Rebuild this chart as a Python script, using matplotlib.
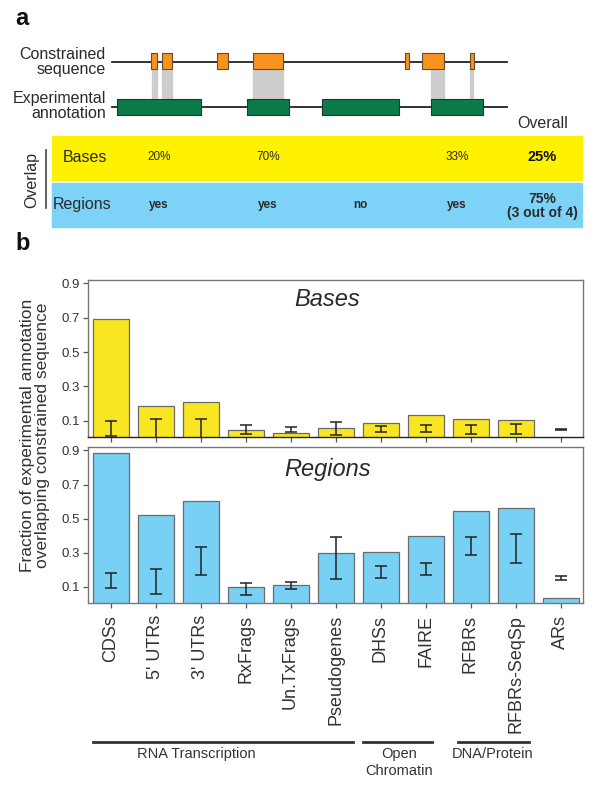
import matplotlib.pyplot as plt
from matplotlib.transforms import blended_transform_factory

plt.rcParams['font.family'] = ['Liberation Sans', 'DejaVu Sans']

# panel b data
categories = ["CDSs", "5' UTRs", "3' UTRs", "RxFrags", "Un.TxFrags", "Pseudogenes",
              "DHSs", "FAIRE", "RFBRs", "RFBRs-SeqSp", "ARs"]
bases = [0.695, 0.186, 0.208, 0.044, 0.031, 0.056, 0.090, 0.133, 0.110, 0.104, 0.0]
bases_lo = [0.011, 0.0, 0.0, 0.023, 0.034, 0.015, 0.037, 0.037, 0.025, 0.025, 0.045]
bases_hi = [0.100, 0.110, 0.110, 0.077, 0.066, 0.094, 0.070, 0.074, 0.074, 0.080, 0.055]
regions = [0.883, 0.523, 0.606, 0.102, 0.113, 0.298, 0.306, 0.396, 0.547, 0.565, 0.033]
regions_lo = [0.096, 0.057, 0.172, 0.053, 0.088, 0.147, 0.155, 0.172, 0.288, 0.243, 0.139]
regions_hi = [0.179, 0.206, 0.333, 0.126, 0.130, 0.394, 0.224, 0.239, 0.392, 0.412, 0.165]
yticks = [0.1, 0.3, 0.5, 0.7, 0.9]

# category groups: label, line start, line end, label x (in category units)
groups = [("RNA Transcription", -0.38, 5.38, 1.9),
          ("Open\nChromatin", 5.6, 7.15, 6.42),
          ("DNA/Protein", 7.73, 9.3, 8.5)]

# panel a schematic (pixel units of the 600x788 canvas)
constrained = [(151, 157), (162, 172), (217, 228), (253, 283), (405, 409), (422, 444), (470, 474)]
annotation = [(117, 201), (247, 289), (322, 399), (431, 483)]
overlaps = [(152, 157), (162, 172), (253, 283), (431, 444), (470, 473)]
base_overlap = ["20%", "70%", "", "33%"]
region_overlap = ["yes", "yes", "no", "yes"]

YELLOW = '#FFF200'
BLUE = '#7DD3F7'
BAR_YELLOW = '#F9E622'
BAR_BLUE = '#79D0F5'
TXT = '#2a2a2a'

fig = plt.figure(figsize=(6, 7.88), dpi=100)

# ---- panel a ----
ax0 = fig.add_axes([0, 0, 1, 1])
ax0.set_xlim(0, 600)
ax0.set_ylim(788, 0)
ax0.axis('off')

ax0.text(15, 18, 'a', fontsize=17, fontweight='bold', va='center', ha='left', color='#111')
ax0.text(15, 243, 'b', fontsize=17, fontweight='bold', va='center', ha='left', color='#111')

ax0.plot([112, 507], [62, 62], color='#222', lw=1.3, zorder=1)
ax0.plot([112, 507], [107, 107], color='#222', lw=1.3, zorder=1)
ax0.broken_barh([(a, b - a) for a, b in overlaps], (69, 30), color='#cdcdcd', zorder=1)
ax0.broken_barh([(a, b - a) for a, b in constrained], (53, 16), facecolor='#F7941D',
                edgecolor='#6b4a2a', lw=0.8, zorder=2)
ax0.broken_barh([(a, b - a) for a, b in annotation], (99, 16), facecolor='#0B7A48',
                edgecolor='#1f3a2c', lw=0.8, zorder=2)

ax0.text(106, 62, 'Constrained\nsequence', ha='right', va='center', fontsize=11.5,
         color=TXT, linespacing=1.0)
ax0.text(106, 106, 'Experimental\nannotation', ha='right', va='center', fontsize=11.5,
         color=TXT, linespacing=1.0)
ax0.text(543, 123, 'Overall', ha='center', va='center', fontsize=11.5, color=TXT)

ax0.broken_barh([(52, 530)], (136, 44), color=YELLOW, zorder=0)
ax0.broken_barh([(52, 530)], (183, 44), color=BLUE, zorder=0)
ax0.text(63, 157, 'Bases', ha='left', va='center', fontsize=11.5, color=TXT)
ax0.text(53, 204, 'Regions', ha='left', va='center', fontsize=11.5, color=TXT)
ax0.text(32, 180, 'Overlap', ha='center', va='center', fontsize=11.5, color=TXT, rotation=90)
ax0.plot([46, 46], [150, 208], color='#444', lw=1.2)

for (a, b), pct, yn in zip(annotation, base_overlap, region_overlap):
    xc = (a + b) / 2
    ax0.text(xc, 157, pct, ha='center', va='center', fontsize=8.5, color=TXT)
    ax0.text(xc, 205, yn, ha='center', va='center', fontsize=8.5, color=TXT, fontweight='bold')
ax0.text(542, 157, '25%', ha='center', va='center', fontsize=10.5, fontweight='bold', color='#111')
ax0.text(542, 206, '75%\n(3 out of 4)', ha='center', va='center', fontsize=10,
         fontweight='bold', color=TXT, linespacing=1.05)

# ---- panel b ----
x = list(range(len(categories)))
ax1 = fig.add_axes([88 / 600, 351 / 788, 495 / 600, 157 / 788])
ax2 = fig.add_axes([88 / 600, 185 / 788, 495 / 600, 156 / 788])

for ax, vals, lo, hi, color, title, ty in [
        (ax1, bases, bases_lo, bases_hi, BAR_YELLOW, 'Bases', 0.873),
        (ax2, regions, regions_lo, regions_hi, BAR_BLUE, 'Regions', 0.853)]:
    ax.set_facecolor('none')
    ax.bar(x, vals, width=0.8, color=color, edgecolor='#6a6a6a', linewidth=0.9)
    mid = [(a + b) / 2 for a, b in zip(lo, hi)]
    err = [[m - a for m, a in zip(mid, lo)], [b - m for m, b in zip(mid, hi)]]
    ax.errorbar(x, mid, yerr=err, fmt='none', ecolor='#222', elinewidth=1.1,
                capsize=4.5, capthick=1.1)
    ax.set_xlim(-0.5, 10.5)
    ax.set_ylim(0.006, 0.92)
    ax.set_yticks(yticks)
    ax.set_yticklabels([f'{t:.1f}' for t in yticks])
    ax.set_xticks(x)
    ax.tick_params(axis='both', direction='out', length=3.5, width=0.9, color='#555',
                   labelsize=9.5, labelcolor='#333', pad=2.5)
    for s in ax.spines.values():
        s.set_color('#777')
        s.set_linewidth(1.0)
    ax.text(0.483, ty, title, transform=ax.transAxes, ha='center', va='center',
            fontsize=17, style='italic', color=TXT)

ax1.spines['bottom'].set_color('#222')
ax1.set_xticklabels([])
ax2.set_xticklabels(categories, rotation=90, fontsize=13, color='#333')
ax2.tick_params(axis='x', pad=5)

fig.text(35 / 600, 1 - 435 / 788,
         'Fraction of experimental annotation\noverlapping constrained sequence',
         rotation=90, ha='center', va='center', fontsize=12.5, color='#333', linespacing=1.05)

tr = blended_transform_factory(ax2.transData, fig.transFigure)
for label, x0, x1, xt in groups:
    ax2.plot([x0, x1], [1 - 742 / 788] * 2, transform=tr, color='#333', lw=2, clip_on=False)
    ax2.text(xt, 1 - 747 / 788, label, transform=tr, ha='center', va='top', fontsize=10.5,
             color='#333', linespacing=1.25)

fig.savefig('out.png', dpi=100)
